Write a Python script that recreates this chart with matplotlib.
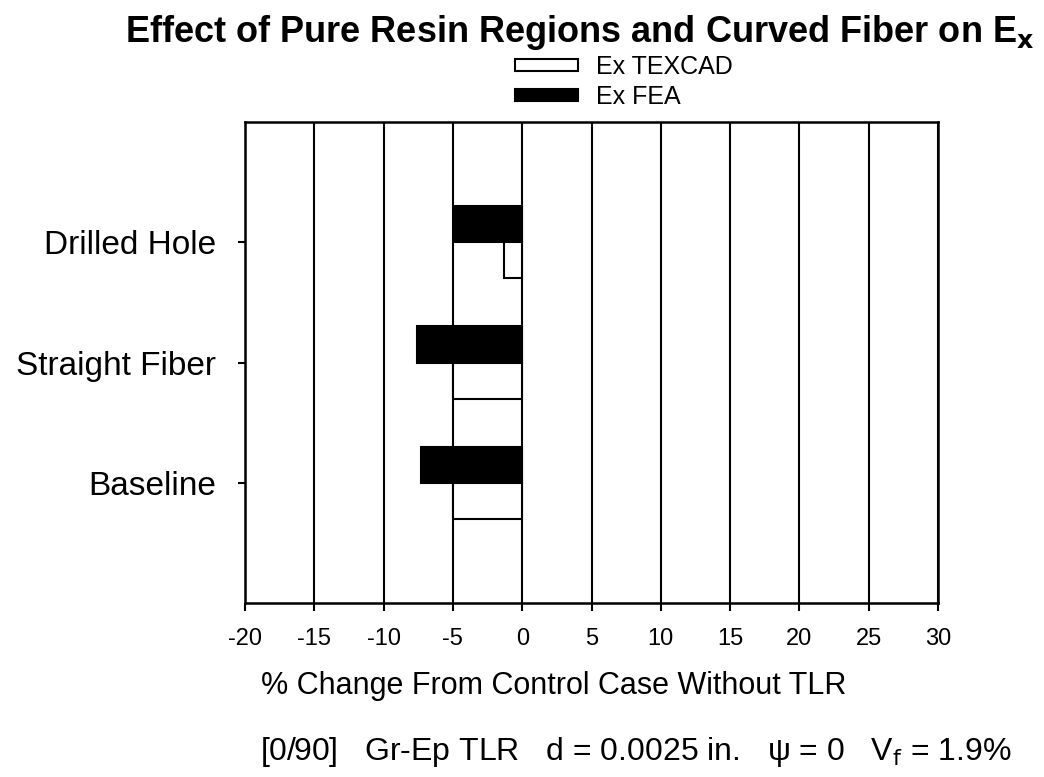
import numpy as np
import matplotlib
matplotlib.use("Agg")
import matplotlib.pyplot as plt
from matplotlib.patches import Patch

plt.rcParams['font.family'] = ['Liberation Sans', 'DejaVu Sans']

categories = ["Baseline", "Straight Fiber", "Drilled Hole"]
ex_texcad = [-5.0, -5.0, -1.3]
ex_fea = [-7.3, -7.6, -4.9]
xticks = [-20, -15, -10, -5, 0, 5, 10, 15, 20, 25, 30]

W, H = 1044, 777
fig = plt.figure(figsize=(W / 100, H / 100), dpi=100)
ax = fig.add_axes([245 / W, 1 - 603 / H, 693 / W, 481 / H])

pos = np.arange(len(categories))
bh = 0.3
# FEA sits just above each category tick, TEXCAD just below
ax.barh(pos + bh / 2, ex_fea, height=bh, color='black', edgecolor='black', lw=1.5, zorder=3)
ax.barh(pos - bh / 2, ex_texcad, height=bh, color='white', edgecolor='black', lw=1.5, zorder=3)

ax.set_xlim(-20, 30)
ax.set_ylim(-1, 3)
ax.set_xticks(xticks)
ax.set_xticklabels([str(v) for v in xticks], fontsize=17)
ax.set_yticks(pos)
ax.set_yticklabels(categories, fontsize=24)
ax.tick_params(axis='x', direction='out', length=6, width=1.5, pad=12)
ax.tick_params(axis='y', direction='out', length=5, width=1.5, pad=16)
ax.xaxis.grid(True, color='black', lw=1.5, zorder=1)
ax.set_axisbelow(True)
for s in ax.spines.values():
    s.set_linewidth(1.8)

fig.text(554 / W, 1 - 686 / H, "% Change From Control Case Without TLR",
         ha='center', va='center', fontsize=22)

fig.text(580 / W, 1 - 32 / H, "Effect of Pure Resin Regions and Curved Fiber on E$_\\mathbf{x}$",
         ha='center', va='center', fontsize=26, fontweight='bold')

handles = [Patch(facecolor='white', edgecolor='black', lw=1.5),
           Patch(facecolor='black', edgecolor='black', lw=1.5)]
fig.legend(handles, ["Ex TEXCAD", "Ex FEA"], loc='center left',
           bbox_to_anchor=(515 / W, 1 - 82 / H), frameon=False, fontsize=18,
           handlelength=2.5, handleheight=0.35, labelspacing=0.25, handletextpad=0.75,
           borderpad=0, borderaxespad=0)

fig.text(636 / W, 1 - 752 / H,
         "[0/90]   Gr-Ep TLR   d = 0.0025 in.   \u03c8 = 0   V$_\\mathrm{f}$ = 1.9%",
         ha='center', va='center', fontsize=23)

fig.savefig("out.png", dpi=100)
